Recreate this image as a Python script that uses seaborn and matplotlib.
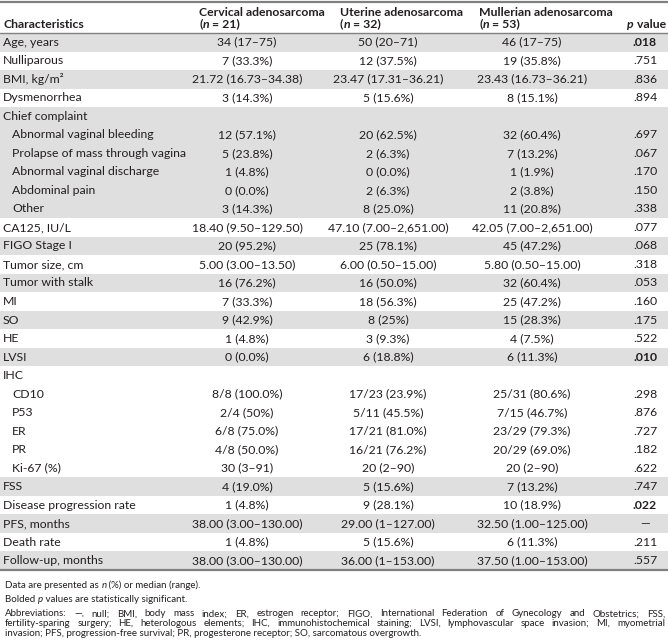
import matplotlib.pyplot as plt
import numpy as np
import seaborn as sns
from matplotlib.colors import ListedColormap
from matplotlib.lines import Line2D

# Table content
characteristics = [
    "Age, years", "Nulliparous", "BMI, kg/m²", "Dysmenorrhea", "Chief complaint",
    "Abnormal vaginal bleeding", "Prolapse of mass through vagina",
    "Abnormal vaginal discharge", "Abdominal pain", "Other",
    "CA125, IU/L", "FIGO Stage I", "Tumor size, cm", "Tumor with stalk",
    "MI", "SO", "HE", "LVSI", "IHC", "CD10", "P53", "ER", "PR", "Ki-67 (%)",
    "FSS", "Disease progression rate", "PFS, months", "Death rate",
    "Follow-up, months",
]
indent = [0, 0, 0, 0, 0, 1, 1, 1, 1, 1, 0, 0, 0, 0, 0, 0, 0, 0, 0,
          1, 1, 1, 1, 1, 0, 0, 0, 0, 0]
cervical = [
    "34 (17–75)", "7 (33.3%)", "21.72 (16.73–34.38)", "3 (14.3%)", "",
    "12 (57.1%)", "5 (23.8%)", "1 (4.8%)", "0 (0.0%)", "3 (14.3%)",
    "18.40 (9.50–129.50)", "20 (95.2%)", "5.00 (3.00–13.50)", "16 (76.2%)",
    "7 (33.3%)", "9 (42.9%)", "1 (4.8%)", "0 (0.0%)", "",
    "8/8 (100.0%)", "2/4 (50%)", "6/8 (75.0%)", "4/8 (50.0%)", "30 (3–91)",
    "4 (19.0%)", "1 (4.8%)", "38.00 (3.00–130.00)", "1 (4.8%)",
    "38.00 (3.00–130.00)",
]
uterine = [
    "50 (20–71)", "12 (37.5%)", "23.47 (17.31–36.21)", "5 (15.6%)", "",
    "20 (62.5%)", "2 (6.3%)", "0 (0.0%)", "2 (6.3%)", "8 (25.0%)",
    "47.10 (7.00–2,651.00)", "25 (78.1%)", "6.00 (0.50–15.00)", "16 (50.0%)",
    "18 (56.3%)", "8 (25%)", "3 (9.3%)", "6 (18.8%)", "",
    "17/23 (23.9%)", "5/11 (45.5%)", "17/21 (81.0%)", "16/21 (76.2%)", "20 (2–90)",
    "5 (15.6%)", "9 (28.1%)", "29.00 (1–127.00)", "5 (15.6%)",
    "36.00 (1–153.00)",
]
mullerian = [
    "46 (17–75)", "19 (35.8%)", "23.43 (16.73–36.21)", "8 (15.1%)", "",
    "32 (60.4%)", "7 (13.2%)", "1 (1.9%)", "2 (3.8%)", "11 (20.8%)",
    "42.05 (7.00–2,651.00)", "45 (47.2%)", "5.80 (0.50–15.00)", "32 (60.4%)",
    "25 (47.2%)", "15 (28.3%)", "4 (7.5%)", "6 (11.3%)", "",
    "25/31 (80.6%)", "7/15 (46.7%)", "23/29 (79.3%)", "20/29 (69.0%)", "20 (2–90)",
    "7 (13.2%)", "10 (18.9%)", "32.50 (1.00–125.00)", "6 (11.3%)",
    "37.50 (1.00–153.00)",
]
p_values = [
    ".018", ".751", ".836", ".894", "", ".697", ".067", ".170", ".150", ".338",
    ".077", ".068", ".318", ".053", ".160", ".175", ".522", ".010", "",
    ".298", ".876", ".727", ".182", ".622", ".747", ".022", "—", ".211", ".557",
]
bold_p = [".018", ".010", ".022"]
shade = [1, 0, 1, 0, 1, 1, 1, 1, 1, 1, 0, 1, 0, 1, 0, 1, 0, 1, 0,
         0, 0, 0, 0, 0, 1, 0, 1, 0, 1]
groups = [("Cervical adenosarcoma", "21"), ("Uterine adenosarcoma", "32"),
          ("Mullerian adenosarcoma", "53")]
abbreviations = [
    "Abbreviations: —, null; BMI, body mass index; ER, estrogen receptor; FIGO, International Federation of Gynecology and Obstetrics; FSS,",
    "fertility-sparing surgery; HE, heterologous elements; IHC, immunohistochemical staining; LVSI, lymphovascular space invasion; MI, myometrial",
    "invasion; PFS, progression-free survival; PR, progesterone receptor; SO, sarcomatous overgrowth.",
]

W, H = 668, 642
TOP, BOTTOM = 33, 570
TXT = "#231f20"
FS = 8.8
FS_NOTE = 7.0

sns.set_theme(style="white")
plt.rcParams['font.family'] = ['Lato', 'DejaVu Sans']

fig = plt.figure(figsize=(W / 100, H / 100), dpi=100)
renderer = fig.canvas.get_renderer()

# row shading drawn as a one-column heatmap
ax = fig.add_axes([0, 1 - BOTTOM / H, 1, (BOTTOM - TOP) / H])
sns.heatmap(np.array(shade).reshape(-1, 1), cmap=ListedColormap(["white", "#dfdfdf"]),
            vmin=0, vmax=1, cbar=False, ax=ax)
ax.set_axis_off()
tr = ax.get_yaxis_transform()

for i, name in enumerate(characteristics):
    y = i + 0.5
    ax.text((3 + 9 * indent[i]) / W, y, name, transform=tr, va="center",
            fontsize=FS, color=TXT)
    ax.text(247 / W, y, cervical[i], transform=tr, va="center", ha="center",
            fontsize=FS, color=TXT)
    ax.text(388 / W, y, uterine[i], transform=tr, va="center", ha="center",
            fontsize=FS, color=TXT)
    ax.text(532 / W, y, mullerian[i], transform=tr, va="center", ha="center",
            fontsize=FS, color=TXT)
    ax.text(645 / W, y, p_values[i], transform=tr, va="center", ha="center",
            fontsize=FS, color=TXT,
            fontweight="bold" if p_values[i] in bold_p else "normal")


def width(s, **kw):
    a = fig.text(0, 0, "|" + s + "|", **kw)
    b = fig.text(0, 0, "||", **kw)
    w = a.get_window_extent(renderer).width - b.get_window_extent(renderer).width
    a.remove()
    b.remove()
    return w


def rich(x, y, parts, size, ha="left"):
    # parts: list of (text, weight, style)
    ws = [width(s, fontsize=size, fontweight=wt, fontstyle=st) for s, wt, st in parts]
    total = sum(ws)
    x0 = x - total / 2 if ha == "center" else (x - total if ha == "right" else x)
    for (s, wt, st), w in zip(parts, ws):
        fig.text(x0 / W, 1 - y / H, s, fontsize=size, fontweight=wt, fontstyle=st,
                 va="center", color=TXT)
        x0 += w


def justified(x, x1, y, line, size):
    words = line.split(" ")
    ws = [width(w, fontsize=size) for w in words]
    gap = (x1 - x - sum(ws)) / (len(words) - 1)
    for w, wd in zip(words, ws):
        fig.text(x / W, 1 - y / H, w, fontsize=size, va="center", color=TXT)
        x += wd + gap


# header
rich(3, 24, [("Characteristics", "bold", "normal")], FS)
for (title, n), hx in zip(groups, [199, 340, 479]):
    rich(hx, 12, [(title, "bold", "normal")], FS)
    rich(hx, 24, [("(", "bold", "normal"), ("n", "bold", "italic"),
                  (" = " + n + ")", "bold", "normal")], FS)
rich(666, 24, [("p", "bold", "italic"), (" value", "bold", "normal")], FS, ha="right")

# rules
for yy, lw in [(1.5, 1.6), (TOP, 1.0), (BOTTOM, 1.6)]:
    fig.add_artist(Line2D([0, 1], [1 - yy / H] * 2, color="#808080", lw=lw))

# notes
rich(5, 585, [("Data are presented as ", "normal", "normal"), ("n", "normal", "italic"),
              (" (%) or median (range).", "normal", "normal")], FS_NOTE)
rich(5, 600, [("Bolded ", "normal", "normal"), ("p", "normal", "italic"),
              (" values are statistically significant.", "normal", "normal")], FS_NOTE)
justified(5, 665, 614, abbreviations[0], FS_NOTE)
justified(5, 665, 623.5, abbreviations[1], FS_NOTE)
rich(5, 633, [(abbreviations[2], "normal", "normal")], FS_NOTE)

fig.savefig("out.png", dpi=100)
